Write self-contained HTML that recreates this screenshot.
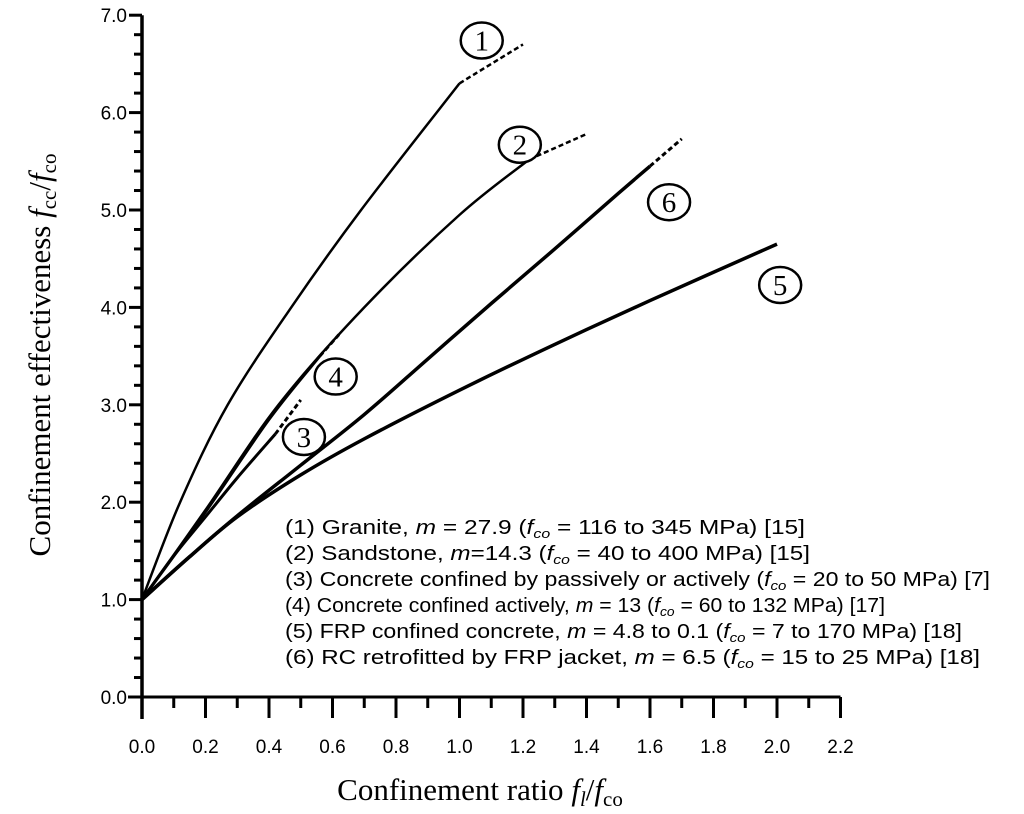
<!DOCTYPE html>
<html><head><meta charset="utf-8"><style>
html,body{margin:0;padding:0;background:#fff;}
svg{display:block;}
</style></head><body>
<svg id="chart" width="1024" height="814" viewBox="0 0 1024 814" xmlns="http://www.w3.org/2000/svg">
<g id="axes"></g>
<g id="series"></g>
<g id="labels"></g>
<g font-family="Liberation Sans, Arial, sans-serif" font-size="20" fill="#000">
<text x="285" y="534" textLength="520" lengthAdjust="spacingAndGlyphs">(1)  Granite, <tspan font-style="italic">m</tspan> = 27.9 (<tspan font-style="italic">f<tspan font-size="13" dy="4">co</tspan></tspan><tspan dy="-4"> = 116 to 345 MPa) [15]</tspan></text>
<text x="285" y="560" textLength="525" lengthAdjust="spacingAndGlyphs">(2)  Sandstone, <tspan font-style="italic">m</tspan>=14.3 (<tspan font-style="italic">f<tspan font-size="13" dy="4">co</tspan></tspan><tspan dy="-4"> = 40 to 400 MPa) [15]</tspan></text>
<text x="285" y="586" textLength="705" lengthAdjust="spacingAndGlyphs">(3)  Concrete confined by passively or actively (<tspan font-style="italic">f<tspan font-size="13" dy="4">co</tspan></tspan><tspan dy="-4"> = 20 to 50 MPa) [7]</tspan></text>
<text x="285" y="612" textLength="600" lengthAdjust="spacingAndGlyphs">(4)  Concrete confined actively, <tspan font-style="italic">m</tspan> = 13 (<tspan font-style="italic">f<tspan font-size="13" dy="4">co</tspan></tspan><tspan dy="-4"> = 60 to 132 MPa) [17]</tspan></text>
<text x="285" y="638" textLength="677" lengthAdjust="spacingAndGlyphs">(5)  FRP confined concrete, <tspan font-style="italic">m</tspan> = 4.8 to 0.1 (<tspan font-style="italic">f<tspan font-size="13" dy="4">co</tspan></tspan><tspan dy="-4"> = 7 to 170 MPa) [18]</tspan></text>
<text x="285" y="664" textLength="695" lengthAdjust="spacingAndGlyphs">(6)  RC retrofitted by FRP jacket, <tspan font-style="italic">m</tspan> = 6.5 (<tspan font-style="italic">f<tspan font-size="13" dy="4">co</tspan></tspan><tspan dy="-4"> = 15 to 25 MPa) [18]</tspan></text>
</g>
<text x="480" y="800" text-anchor="middle" font-family="Liberation Serif, serif" font-size="31">Confinement ratio <tspan font-style="italic">f<tspan font-size="21" dy="6">l</tspan></tspan><tspan dy="-6">/</tspan><tspan font-style="italic">f</tspan><tspan font-size="21" dy="6">co</tspan></text>
<text transform="translate(50,355) rotate(-90)" text-anchor="middle" font-family="Liberation Serif, serif" font-size="31">Confinement effectiveness <tspan font-style="italic">f</tspan><tspan font-size="21" dy="6">cc</tspan><tspan dy="-6">/</tspan><tspan font-style="italic">f</tspan><tspan font-size="21" dy="6">co</tspan></text>
</svg>
<script>
const xTicks=["0.0","0.2","0.4","0.6","0.8","1.0","1.2","1.4","1.6","1.8","2.0","2.2"];
const yTicks=["0.0","1.0","2.0","3.0","4.0","5.0","6.0","7.0"];
const c1x=[0,0.12,0.27,0.47,0.69,1.0];
const c1y=[1,2,3,4,5,6.3];
const c1dx=[1.0,1.2];const c1dy=[6.3,6.7];
const c2x=[0,0.2,0.43,0.7,1.0,1.22];
const c2y=[1,1.92,3.0,4.0,4.95,5.52];
const c2dx=[1.22,1.4];const c2dy=[5.52,5.78];
const c3x=[0,0.1,0.2,0.3,0.42];
const c3y=[1,1.45,1.85,2.25,2.7];
const c3dx=[0.42,0.5];const c3dy=[2.7,3.05];
const c4x=[0,0.2,0.4,0.56];
const c4y=[1,1.9,2.85,3.5];
const c4dx=[0.56,0.62];const c4dy=[3.5,3.72];
const c5x=[0,0.15,0.3,0.5,0.7,1.0,1.3,1.6,2.0];
const c5y=[1,1.44,1.85,2.28,2.65,3.15,3.62,4.07,4.65];
const c6x=[0,0.15,0.3,0.5,0.7,0.9,1.1,1.3,1.5,1.6];
const c6y=[1,1.44,1.86,2.38,2.9,3.47,4.04,4.6,5.17,5.45];
const c6dx=[1.6,1.7];const c6dy=[5.45,5.73];
const labelNames=["1","2","3","4","5","6"];
const labelX=[1.07,1.19,0.51,0.61,2.01,1.66];
const labelY=[6.74,5.67,2.67,3.29,4.23,5.08];

const NS="http://www.w3.org/2000/svg";
const X0=142,XS=317.5,Y0=697,YS=97.4;
const sx=v=>X0+v*XS, sy=v=>Y0-v*YS;
function mk(tag,attrs,parent){const e=document.createElementNS(NS,tag);for(const k in attrs)e.setAttribute(k,attrs[k]);parent.appendChild(e);return e;}
const axes=document.getElementById('axes');
let ln=mk('line',{x1:sx(0),y1:sy(7),x2:sx(0),y2:719,stroke:'#000','stroke-width':3.5},axes);


ln=mk('line',{x1:128,y1:sy(0),x2:sx(2.2),y2:sy(0),stroke:'#000','stroke-width':3},axes);


for(let i=0;i<=22;i++){const major=i%2==0;const t=mk('line',{x1:sx(i*0.1),y1:sy(0),x2:sx(i*0.1),y2:sy(0)+(major?21:11),stroke:'#000','stroke-width':3},axes);

}
xTicks.forEach((s,i)=>{const t=mk('text',{x:sx(parseFloat(s)),y:753,'text-anchor':'middle','font-family':'Liberation Sans, Arial, sans-serif','font-size':19},axes);t.textContent=s;

});
for(let i=0;i<=35;i++){const major=i%5==0;const t=mk('line',{x1:sx(0),y1:sy(i*0.2),x2:sx(0)-(major?13:8),y2:sy(i*0.2),stroke:'#000','stroke-width':3},axes);

}
yTicks.forEach(s=>{const t=mk('text',{x:127,y:sy(parseFloat(s))+7,'text-anchor':'end','font-family':'Liberation Sans, Arial, sans-serif','font-size':19},axes);t.textContent=s;

});
function pathD(xs,ys){const p=xs.map((x,i)=>[sx(x),sy(ys[i])]);let d='M'+p[0][0]+','+p[0][1];
for(let i=0;i<p.length-1;i++){const a=p[Math.max(i-1,0)],b=p[i],c=p[i+1],e=p[Math.min(i+2,p.length-1)];
d+=' C'+(b[0]+(c[0]-a[0])/6)+','+(b[1]+(c[1]-a[1])/6)+' '+(c[0]-(e[0]-b[0])/6)+','+(c[1]-(e[1]-b[1])/6)+' '+c[0]+','+c[1];}return d;}
const series=document.getElementById('series');
function curve(name,xs,ys,w,dash){const p=mk('path',{d:pathD(xs,ys),fill:'none',stroke:'#000','stroke-width':w,'stroke-linecap':'butt'},series);
if(dash)p.setAttribute('stroke-dasharray','5,3');

}
curve('curve-1-granite',c1x,c1y,2.5);curve('curve-1-extension',c1dx,c1dy,2.5,true);
curve('curve-2-sandstone',c2x,c2y,2.5);curve('curve-2-extension',c2dx,c2dy,2.5,true);
curve('curve-3-concrete',c3x,c3y,3);curve('curve-3-extension',c3dx,c3dy,3,true);
curve('curve-4-concrete-active',c4x,c4y,3);curve('curve-4-extension',c4dx,c4dy,3,true);
curve('curve-5-frp',c5x,c5y,3.5);
curve('curve-6-rc-frp',c6x,c6y,3.5);curve('curve-6-extension',c6dx,c6dy,3,true);
const labels=document.getElementById('labels');
labelNames.forEach((n,i)=>{const g=mk('g',{},labels);


mk('ellipse',{cx:sx(labelX[i]),cy:sy(labelY[i]),rx:21,ry:18,fill:'#fff',stroke:'#000','stroke-width':2.5},g);
const t=mk('text',{x:sx(labelX[i]),y:sy(labelY[i])+10,'text-anchor':'middle','font-family':'Liberation Serif, serif','font-size':29},g);t.textContent=n;});
</script>
</body></html>
